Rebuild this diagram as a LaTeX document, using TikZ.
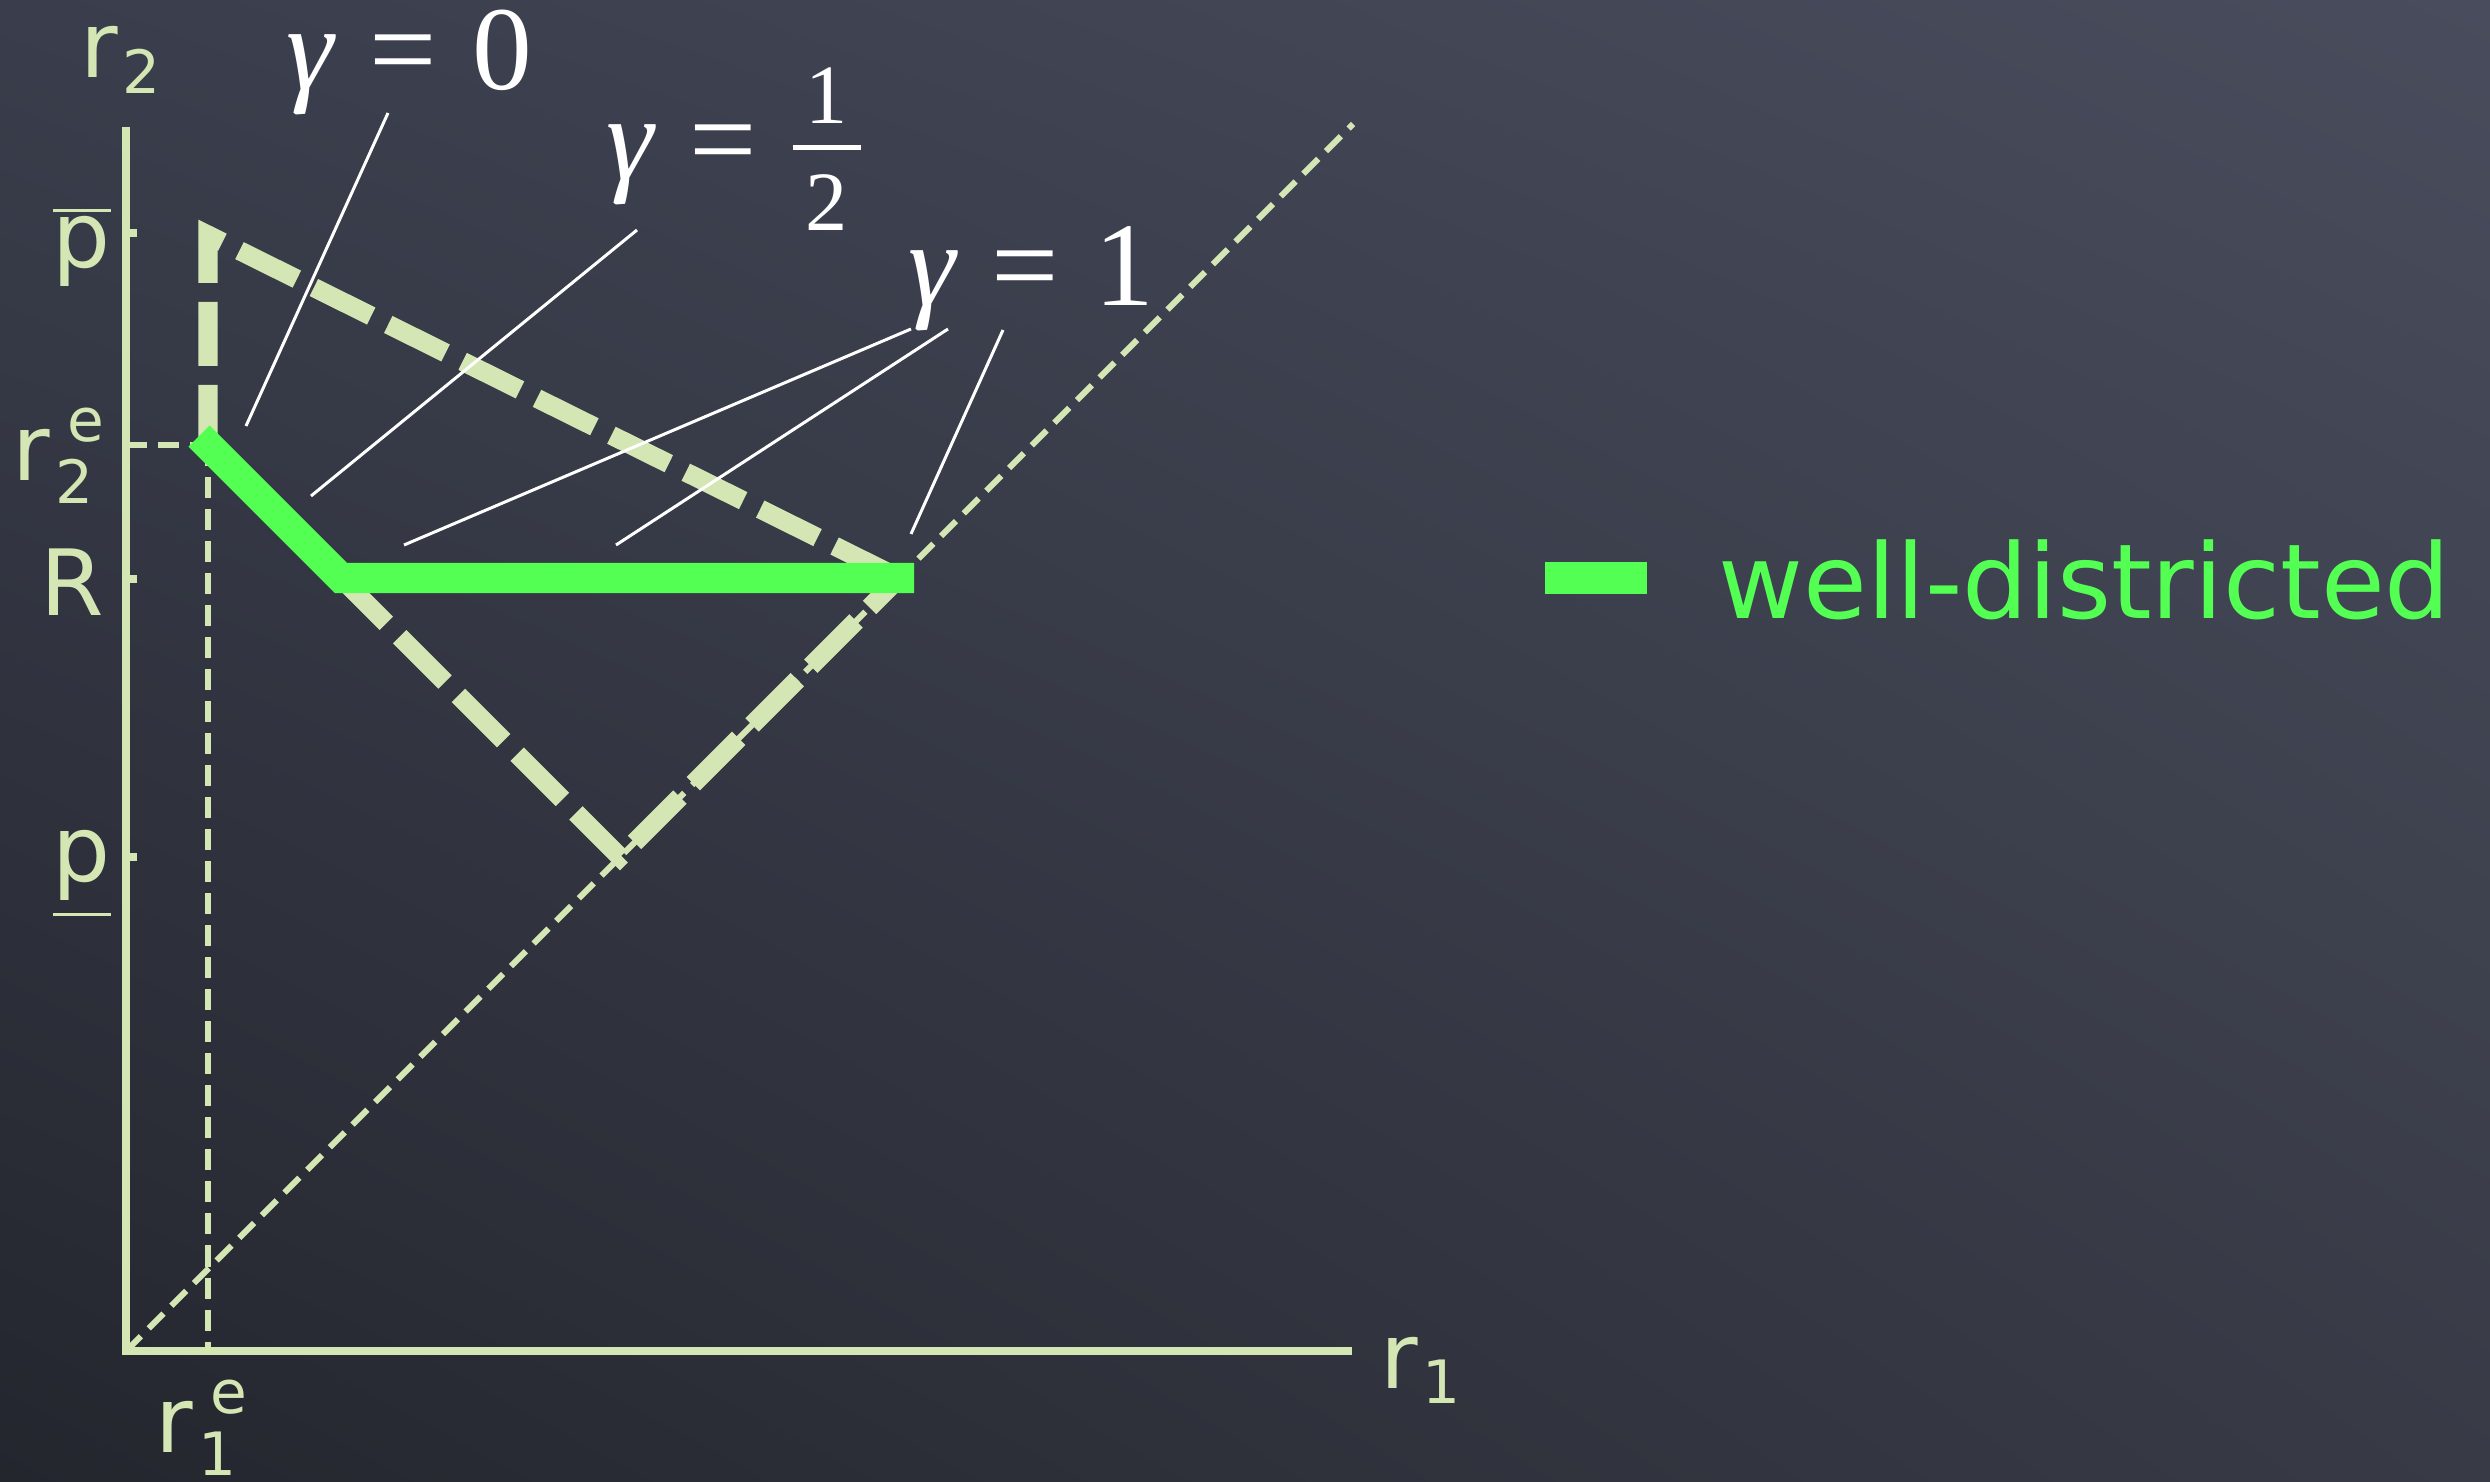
\documentclass[tikz,border=0pt]{standalone}
\usepackage{fontspec}
\usetikzlibrary{shadings}
\setmainfont{DejaVu Sans}
\newfontfamily\timesfont{Liberation Serif}
\definecolor{chalk}{RGB}{212,230,180}
\definecolor{hot}{RGB}{84,255,84}
\definecolor{bgA}{RGB}{58,62,76}
\definecolor{bgB}{RGB}{72,76,92}
\definecolor{bgC}{RGB}{36,38,46}
\definecolor{bgD}{RGB}{56,59,70}
\newcommand\lsub[1]{\hspace{0.04cm}\raisebox{-0.15cm}{\fontsize{17}{17}\selectfont #1}}
\newcommand\lsupsub[2]{\hspace{0.05cm}\rlap{\hspace{0.12cm}\raisebox{0.38cm}{\fontsize{17}{17}\selectfont #1}}\raisebox{-0.23cm}{\fontsize{17}{17}\selectfont #2}}
\newcommand\obar[1]{\ooalign{#1\cr\hidewidth\raisebox{0.56cm}{\rule{0.58cm}{0.03cm}}\hidewidth\cr}}
\newcommand\ubar[1]{\ooalign{#1\cr\hidewidth\raisebox{-0.345cm}{\rule{0.58cm}{0.03cm}}\hidewidth\cr}}
\newcommand\halffrac{\raisebox{-0.50cm}{\vbox{\fontsize{24}{24}\selectfont\hbox to 0.68cm{\hss 1\hss}\kern0.22cm\hrule height 0.05cm\kern0.24cm\hbox to 0.68cm{\hss 2\hss}}}}
\begin{document}
\begin{tikzpicture}[x=0.01cm,y=-0.01cm,
  axisline/.style={draw=chalk, line width=0.08cm, line join=miter},
  thindash/.style={draw=chalk, line width=0.06cm, dash pattern=on 0.21cm off 0.11cm},
  thickdash/.style={draw=chalk, line width=0.19cm, dash pattern=on 0.64cm off 0.19cm, line join=miter, miter limit=10},
  hotline/.style={draw=hot, line width=0.30cm, line join=miter},
  pointer/.style={draw=white, line width=0.03cm},
  lab/.style={text=chalk, font=\fontsize{26}{30}\selectfont, inner sep=0pt, anchor=base west},
  gam/.style={text=white, font=\timesfont\fontsize{34}{38}\selectfont, inner sep=0pt, anchor=base west}]
\useasboundingbox (0,0) rectangle (2490,1482);
\shade[upper left=bgA, upper right=bgB, lower left=bgC, lower right=bgD] (0,0) rectangle (2490,1482);
% coordinates
\coordinate (O) at (126,1351);
\coordinate (Ytop) at (126,127);
\coordinate (Xend) at (1352,1351);
\coordinate (Dtop) at (1353,124);
\coordinate (A) at (208,235);
\coordinate (Bs) at (208,449);
\coordinate (K) at (341,578);
\coordinate (P) at (620,857);
\coordinate (D) at (899,578);
\coordinate (Gs) at (199,436);
\coordinate (Ge) at (914,578);
\coordinate (E) at (208,445);
\coordinate (Ebot) at (208,1351);
\coordinate (Yr2e) at (126,445);
\coordinate (Yr2eend) at (199,445);
\coordinate (Ypbar) at (126,233);
\coordinate (Ypbart) at (137,233);
\coordinate (YR) at (126,579);
\coordinate (YRt) at (137,579);
\coordinate (Yp) at (126,857);
\coordinate (Ypt) at (137,857);
% thin dashed guides
\draw[thindash] (O) -- (Dtop);
\draw[thindash] (E) -- (Ebot);
\draw[thindash] (Yr2e) -- (Yr2eend);
% axes and ticks
\draw[axisline] (Ytop) -- (O) -- (Xend);
\draw[axisline] (Ypbar) -- (Ypbart);
\draw[axisline] (YR) -- (YRt);
\draw[axisline] (Yp) -- (Ypt);
% thick dashed boundaries
\draw[thickdash] (Bs) -- (A) -- (D);
\draw[thickdash] (K) -- (P) -- (D);
% well-districted
\draw[hotline] (Gs) -- (K) -- (Ge);
% gamma labels
\node[gam] (g0) at (286,90) {{\itshape γ}\hspace{0.3em}=\hspace{0.3em}0};
\node[gam] (gh) at (606,180) {{\itshape γ}\hspace{0.3em}=\hspace{0.3em}\halffrac};
\node[gam] (g1) at (908,306) {{\itshape γ}\hspace{0.3em}=\hspace{0.3em}1};
\coordinate (p0a) at (388,113);
\coordinate (p0b) at (246,426);
\coordinate (pha) at (637,230);
\coordinate (phb) at (311,496);
\coordinate (p1a) at (911,329);
\coordinate (p1b) at (404,545);
\coordinate (p1c) at (948,329);
\coordinate (p1d) at (616,545);
\coordinate (p1e) at (1003,330);
\coordinate (p1f) at (911,534);
\draw[pointer] (p0a) -- (p0b);
\draw[pointer] (pha) -- (phb);
\draw[pointer] (p1a) -- (p1b);
\draw[pointer] (p1c) -- (p1d);
\draw[pointer] (p1e) -- (p1f);
% axis labels
\node[lab] (lr2) at (80,78) {r\lsub{2}};
\node[lab, anchor=base] (lpbar) at (82,268) {\obar{p}};
\node[lab] (lr2e) at (12,480) {r\lsupsub{e}{2}};
\node[lab, anchor=base] (lR) at (72,615) {R};
\node[lab, anchor=base] (lp) at (82,881) {\ubar{p}};
\node[lab] (lr1) at (1380,1388) {r\lsub{1}};
\node[lab] (lr1e) at (155,1452) {r\lsupsub{e}{1}};
% legend
\node[fill=hot, minimum width=1.02cm, minimum height=0.32cm, inner sep=0pt] (key) at (1596,578) {};
\node[text=hot, font=\fontsize{29.5}{34}\selectfont, anchor=base west, inner sep=0pt] (keytext) at (1718,618) {well-districted};
\end{tikzpicture}
\end{document}
